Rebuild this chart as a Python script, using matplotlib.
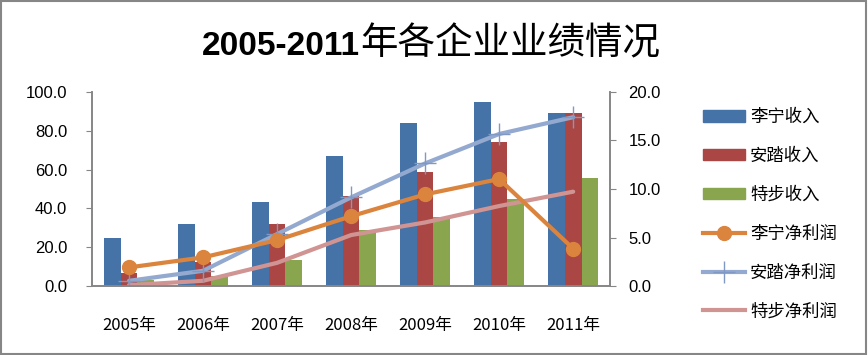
import matplotlib.pyplot as plt
import numpy as np
from matplotlib.lines import Line2D
from matplotlib.patches import Patch

plt.rcParams['font.family'] = ['Noto Sans CJK SC', 'DejaVu Sans']

years = ["2005年", "2006年", "2007年", "2008年", "2009年", "2010年", "2011年"]
lining_rev = [24.7, 32.0, 43.3, 67.0, 84.0, 94.8, 89.2]
anta_rev = [6.9, 12.5, 32.0, 46.4, 58.8, 74.2, 89.2]
xtep_rev = [3.0, 5.0, 13.4, 28.9, 35.6, 44.8, 55.7]
lining_profit = [1.93, 2.96, 4.74, 7.2, 9.45, 11.03, 3.86]
anta_profit = [0.55, 1.58, 5.36, 9.14, 12.64, 15.67, 17.4]
xtep_profit = [0.1, 0.55, 2.4, 5.26, 6.56, 8.25, 9.73]

c_blue = "#4572A7"
c_red = "#AA4643"
c_green = "#89A54E"
c_orange = "#DB843D"
c_lblue = "#93A9CF"
c_pink = "#D09493"
grey = "#868686"

fig = plt.figure(figsize=(8.68, 3.55), dpi=100)
ax = fig.add_axes([0.106, 0.194, 0.597, 0.547])
ax2 = ax.twinx()

x = np.arange(len(years))
w = 0.225
ax.bar(x - w, lining_rev, w, color=c_blue, zorder=2)
ax.bar(x, anta_rev, w, color=c_red, zorder=2)
ax.bar(x + w, xtep_rev, w, color=c_green, zorder=2)

ax2.plot(x, xtep_profit, color=c_pink, lw=3, solid_capstyle="round")
ax2.plot(x, anta_profit, color=c_lblue, lw=3, marker="+", ms=16, mew=1,
         mec="#7F98C4", solid_capstyle="round")
ax2.plot(x, lining_profit, color=c_orange, lw=3, marker="o", ms=10,
         solid_capstyle="round")

ax.set_xlim(-0.5, len(years) - 0.5)
ax.set_ylim(0, 100)
ax2.set_ylim(0, 20)
ax.set_yticks(np.arange(0, 101, 20))
ax2.set_yticks(np.arange(0, 21, 5))
ax.set_yticklabels(["%.1f" % v for v in np.arange(0, 101, 20)],
                   family=["Liberation Sans"], fontsize=12)
ax2.set_yticklabels(["%.1f" % v for v in np.arange(0, 21, 5)],
                    family=["Liberation Sans"], fontsize=12)
ax.set_xticks(x)
ax.set_xticklabels(years, fontsize=12)
ax.tick_params(axis="x", length=0, pad=22)
ax.tick_params(axis="y", length=4, color=grey, pad=14)
ax2.tick_params(axis="y", length=4, color=grey, pad=9)

for a in (ax, ax2):
    a.spines["top"].set_visible(False)
    for s in ("left", "right", "bottom"):
        a.spines[s].set_color(grey)
        a.spines[s].set_linewidth(1.2)

# title: bold digits + regular CJK
fig.text(0.415, 0.87, "2005-2011", ha="right", va="center", fontsize=24,
         fontweight="bold", family=["Liberation Sans"])
fig.text(0.415, 0.875, "年各企业业绩情况", ha="left", va="center", fontsize=27)

handles = [
    Patch(color=c_blue), Patch(color=c_red), Patch(color=c_green),
    Line2D([], [], color=c_orange, lw=3, marker="o", ms=10),
    Line2D([], [], color=c_lblue, lw=3, marker="+", ms=16, mew=1, mec="#7F98C4"),
    Line2D([], [], color=c_pink, lw=3),
]
labels = ["李宁收入", "安踏收入", "特步收入", "李宁净利润", "安踏净利润", "特步净利润"]
fig.legend(handles, labels, loc="upper left", bbox_to_anchor=(0.802, 0.715),
           frameon=False, fontsize=12.5, handlelength=2.4, handleheight=0.6,
           labelspacing=1.2, handletextpad=0.3, borderaxespad=0)

fig.patches.append(plt.Rectangle((0.001, 0.002), 0.997, 0.995, transform=fig.transFigure,
                                 fill=False, edgecolor=grey, lw=1.5))

fig.savefig("out.png", dpi=100)
